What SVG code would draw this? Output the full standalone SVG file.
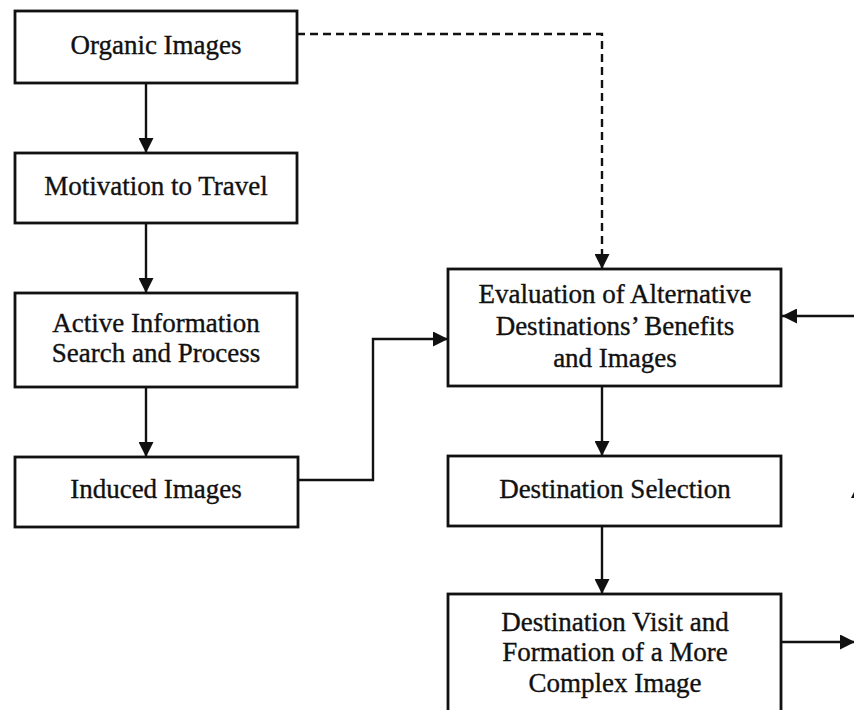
<svg xmlns="http://www.w3.org/2000/svg" width="854" height="710" viewBox="0 0 854 710">
  <style>
    .box { fill: #ffffff; stroke: #111111; stroke-width: 2.8; }
    .lbl { font-family: "Liberation Serif", "Times New Roman", serif; font-size: 27px; fill: #111111; stroke: #111111; stroke-width: 0.35; text-anchor: middle; }
    .wire { fill: none; stroke: #111111; stroke-width: 2.4; }
    .dash { fill: none; stroke: #111111; stroke-width: 2.4; stroke-dasharray: 8 5; }
  </style>
  <defs>
    <marker id="head" viewBox="0 0 15 15" refX="15" refY="7.5" markerWidth="15" markerHeight="15" markerUnits="userSpaceOnUse" orient="auto">
      <path d="M0,0 L15,7.5 L0,15 Z" fill="#111111"/>
    </marker>
  </defs>

  <rect width="854" height="710" fill="#ffffff"/>

  <g id="connectors">
    <line class="wire" x1="146" y1="83" x2="146" y2="153" marker-end="url(#head)"/>
    <line class="wire" x1="146" y1="223" x2="146" y2="293" marker-end="url(#head)"/>
    <line class="wire" x1="146" y1="387" x2="146" y2="457" marker-end="url(#head)"/>
    <polyline class="wire" points="298,480 373,480 373,339 448,339" marker-end="url(#head)"/>
    <polyline class="dash" points="297,34 602,34 602,269" marker-end="url(#head)"/>
    <line class="wire" x1="602" y1="386" x2="602" y2="456" marker-end="url(#head)"/>
    <line class="wire" x1="602" y1="526" x2="602" y2="594" marker-end="url(#head)"/>
    <line class="wire" x1="856" y1="316" x2="782" y2="316" marker-end="url(#head)"/>
    <line class="wire" x1="782" y1="642" x2="855" y2="642" marker-end="url(#head)"/>
    <path d="M857,486 L863,498 L851,498 Z" fill="#111111"/>
  </g>

  <g id="organic-images">
    <rect class="box" x="15" y="11" width="282" height="72"/>
    <text class="lbl" x="156" y="54">Organic Images</text>
  </g>

  <g id="motivation">
    <rect class="box" x="15" y="153" width="282" height="70"/>
    <text class="lbl" x="156" y="195">Motivation to Travel</text>
  </g>

  <g id="active-search">
    <rect class="box" x="15" y="293" width="282" height="94"/>
    <text class="lbl" x="156" y="332">Active Information</text>
    <text class="lbl" x="156" y="362">Search and Process</text>
  </g>

  <g id="induced-images">
    <rect class="box" x="15" y="457" width="283" height="70"/>
    <text class="lbl" x="156" y="498">Induced Images</text>
  </g>

  <g id="evaluation">
    <rect class="box" x="448" y="269" width="333" height="117"/>
    <text class="lbl" x="615" y="303">Evaluation of Alternative</text>
    <text class="lbl" x="615" y="335">Destinations’ Benefits</text>
    <text class="lbl" x="615" y="367">and Images</text>
  </g>

  <g id="destination-selection">
    <rect class="box" x="448" y="456" width="333" height="70"/>
    <text class="lbl" x="615" y="498">Destination Selection</text>
  </g>

  <g id="destination-visit">
    <rect class="box" x="448" y="594" width="333" height="130"/>
    <text class="lbl" x="615" y="631">Destination Visit and</text>
    <text class="lbl" x="615" y="661">Formation of a More</text>
    <text class="lbl" x="615" y="692">Complex Image</text>
  </g>
</svg>
